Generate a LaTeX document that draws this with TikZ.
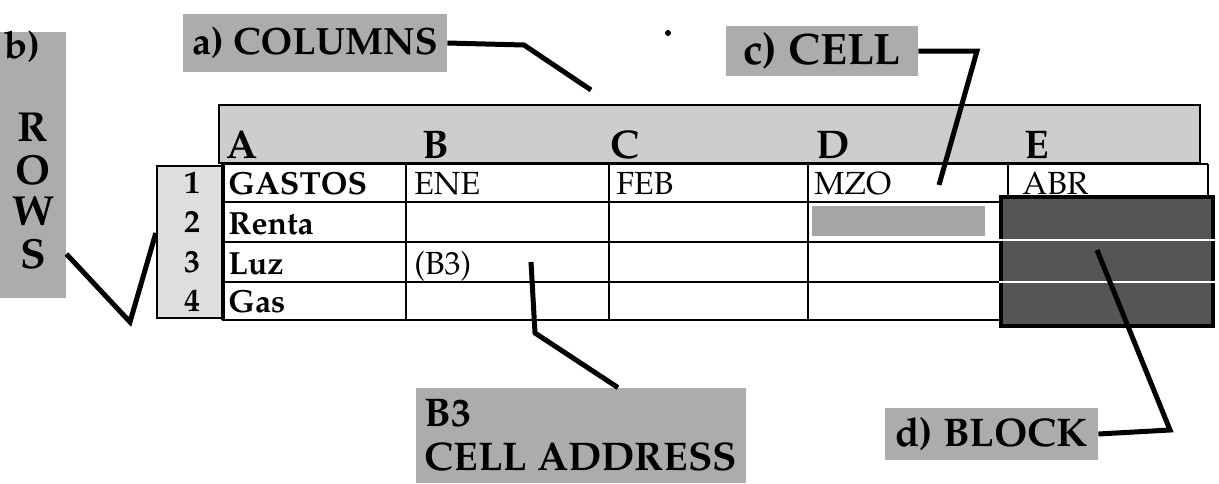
\documentclass[tikz,border=0pt]{standalone}
\usepackage[T1]{fontenc}
\usepackage{mathpazo}
\usepackage{tikz}
\definecolor{tagfill}{HTML}{ACACAC}
\definecolor{headfill}{HTML}{CDCDCD}
\definecolor{numfill}{HTML}{DEDEDE}
\definecolor{blkfill}{HTML}{555555}
\newcommand{\bigbf}[1]{\fontsize{#1}{#1}\bfseries\selectfont}

\begin{document}
\begin{tikzpicture}[x=0.5pt, y=-0.5pt,
    tag/.style={fill=tagfill, inner sep=0pt, font=\bigbf{19}},
    lead/.style={line width=2.5pt},
    grid/.style={line width=1.2pt},
    txt/.style={anchor=base west, inner sep=0pt, font=\fontsize{16}{18}\selectfont},
    btxt/.style={txt, font=\bigbf{16}},
    letter/.style={anchor=base west, inner sep=0pt, font=\bigbf{20}}]
    \useasboundingbox (0,0) rectangle (1219,483);

    % labels
    \node[tag, minimum width=132pt, minimum height=29pt] (colLbl)  at (315,43)  {a) COLUMNS};
    \node[tag, minimum width=96pt,  minimum height=25pt, font=\bigbf{22}] (cellLbl) at (822,51) {c) CELL};
    \node[tag, minimum width=33pt,  minimum height=133pt] (rowsLbl) at (33,165) {};
    \node[tag, fill=none] (rb) at (22,47)  {b)};
    \node[tag, fill=none, font=\bigbf{21}] (rR) at (33,128) {R};
    \node[tag, fill=none, font=\bigbf{21}] (rO) at (33,170) {O};
    \node[tag, fill=none, font=\bigbf{21}] (rW) at (33,211) {W};
    \node[tag, fill=none, font=\bigbf{21}] (rS) at (33,254) {S};
    \node[tag, minimum width=165pt, minimum height=47.5pt, align=left, font=\bigbf{20}] (addrLbl) at (581,435.5) {B3\\[2pt]CELL ADDRESS};
    \node[tag, minimum width=106.5pt, minimum height=26pt, font=\bigbf{20}] (blockLbl) at (991.5,434) {d) BLOCK};
    \fill (668,33) circle (3);

    % column header and row numbers
    \node[draw, grid, fill=headfill, minimum width=490.5pt, minimum height=29pt, inner sep=0pt] (head) at (709.5,134) {};
    \node[letter] (colA) at (226,158) {A};
    \node[letter] (colB) at (422,158) {B};
    \node[letter] (colC) at (610,158) {C};
    \node[letter] (colD) at (816,158) {D};
    \node[letter] (colE) at (1024,158) {E};
    \node[draw, grid, fill=numfill, minimum width=33.5pt, minimum height=76pt, inner sep=0pt] (rownum) at (190.5,242) {};
    \foreach \n/\y in {1/183, 2/222, 3/262, 4/301}
        \node[font=\bigbf{16}, inner sep=0pt] (num\n) at (192,\y) {\n};

    % sheet
    \node[fill=black!35, minimum width=86.5pt, minimum height=15pt, inner sep=0pt] (cellD) at (898.5,221) {};
    \foreach \y in {164, 202, 242, 282, 320}
        \draw[grid] (222,\y) -- (1208,\y);
    \foreach \x in {222, 406, 609, 808, 1008, 1208}
        \draw[grid] (\x,164) -- (\x,320);
    \node[btxt] (gastos) at (228,194) {GASTOS};
    \node[btxt] (renta)  at (228,234) {Renta};
    \node[btxt] (luz)    at (228,274) {Luz};
    \node[btxt] (gas)    at (228,312) {Gas};
    \node[txt]  (ene)    at (414,194) {ENE};
    \node[txt]  (feb)    at (616,194) {FEB};
    \node[txt]  (mzo)    at (814,194) {MZO};
    \node[txt]  (abr)    at (1022,194) {ABR};
    \node[txt]  (bthree) at (414,274) {(B3)};
    \node[draw, line width=1.6pt, fill=blkfill, minimum width=106pt, minimum height=64.5pt, inner sep=0pt] (blk) at (1107,261.5) {};
    \foreach \y in {240, 282}
        \draw[white, line width=1pt] (blk.west |- 0,\y) -- (blk.east |- 0,\y);

    % leaders
    \coordinate (colTip)   at (591,90);
    \coordinate (cellTip)  at (939,185);
    \coordinate (b3Tip)    at (531,262);
    \coordinate (blkTip)   at (1097,250);
    \draw[lead] (colLbl.east) -- (524,45) -- (colTip);
    \draw[lead] (cellLbl.east) -- (977,51) -- (cellTip);
    \draw[lead] (rowsLbl.east |- rS) -- (130,322) -- (rownum.west |- 0,233);
    \draw[lead] (b3Tip) -- (535,333) -- (addrLbl.north -| 618,0);
    \draw[lead] (blockLbl.east) -- (1170,430) -- (blkTip);
\end{tikzpicture}
\end{document}
